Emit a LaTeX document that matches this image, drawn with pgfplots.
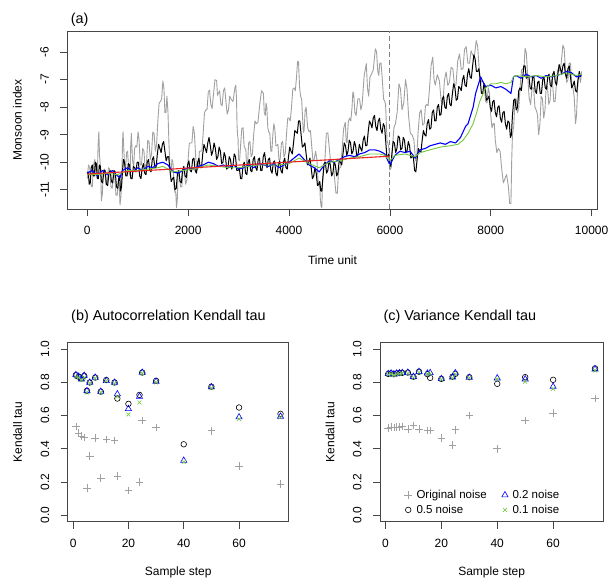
\documentclass[border=0pt]{standalone}
\usepackage{fontspec}
\setmainfont{Liberation Sans}
\usepackage{pgfplots}
\pgfplotsset{compat=1.18}
\definecolor{gry}{RGB}{160,160,160}
\definecolor{grn}{RGB}{115,200,60}
\definecolor{blu}{RGB}{0,0,255}
\definecolor{rd}{RGB}{235,35,35}
\definecolor{frm}{RGB}{70,70,70}
\pgfplotsset{
 rstyle/.style={
  scale only axis, anchor=south west, scaled ticks=false,
  axis line style={frm, line width=0.8pt},
  tick align=outside, tick pos=left, major tick length=7pt,
  tick style={frm, line width=0.7pt},
  every tick label/.append style={font=\fontsize{12}{14}\selectfont},
  /pgf/number format/assume math mode=true,
  /pgf/number format/1000 sep={},
  yticklabel style={rotate=90, anchor=south},
  yticklabel shift=8pt, xticklabel shift=7pt,
  every axis y label/.style={at={([xshift=-50pt]axis description cs:0,0.5)}, rotate=90, anchor=center, font=\fontsize{12}{14}\selectfont},
  every axis x label/.style={at={([yshift=-51pt]axis description cs:0.5,0)}, anchor=center, font=\fontsize{12}{14}\selectfont},
 },
 sc/.style={only marks, line width=0.6pt},
 mplus/.style={sc, gry, mark=+, mark size=3.8pt},
 mcirc/.style={sc, black, mark=o, mark size=2.8pt},
 mtri/.style={sc, blu, mark=triangle, mark size=3.6pt},
 mcross/.style={sc, grn, mark=x, mark size=2.7pt},
}
\begin{document}
\begin{tikzpicture}
\useasboundingbox (0pt,0pt) rectangle (611pt,579pt);
% ---------------- panel (a)
\begin{axis}[rstyle, at={(67.3pt,370pt)}, width=530.4pt, height=177.5pt,
  xmin=-395, xmax=10120, ymin=-11.70, ymax=-5.25,
  xtick={0,2000,4000,6000,8000,10000}, ytick={-11,-10,-9,-8,-7,-6},
  xlabel={Time unit}, ylabel={Monsoon index},
  title={(a)}, every axis title/.style={at={([yshift=7.5pt]axis description cs:0,1)}, anchor=base west, font=\fontsize{14.4}{16}\selectfont},
  every axis plot/.append style={line join=round}]
\addplot[gry, line width=0.9pt] coordinates {
(0,-10.6)(25,-10.1)(50,-10.2)(75,-10.85)(100,-10.9)(125,-10.1)(150,-9.9)(175,-10.5)(200,-10.5)(215,-9.4)
(230,-8.9)(245,-9.8)(260,-10.1)(270,-10.45)(280,-11.4)(300,-11.15)(320,-10.3)(345,-10.25)(370,-10.8)(395,-10.8)
(420,-10.2)(445,-10.25)(470,-10.9)(495,-10.95)(520,-10.4)(545,-10.5)(570,-11.2)(595,-11.2)(620,-10.6)(635,-10.8)
(650,-11.55)(670,-11.2)(690,-10.2)(700,-9.25)(710,-8.9)(735,-9.9)(760,-10.3)(780,-9.65)(800,-9.6)(825,-10.35)
(850,-10.5)(862,-9.4)(875,-8.95)(897,-9.9)(920,-10.2)(940,-9.5)(960,-9.4)(984,-9.45)(1008,-8.9)(1029,-9.2)
(1050,-10.1)(1075,-10.1)(1100,-9.5)(1125,-9.6)(1150,-10.3)(1175,-10.05)(1200,-9.2)(1225,-9.25)(1250,-9.9)(1275,-9.7)
(1300,-8.9)(1325,-8.95)(1350,-9.6)(1375,-9.35)(1400,-8.5)(1425,-7.85)(1450,-7.8)(1475,-7.7)(1500,-7.05)(1520,-7.3)
(1540,-8.2)(1560,-8.2)(1580,-7.6)(1600,-8.15)(1620,-9.3)(1640,-10.15)(1660,-10.4)(1680,-9.9)(1700,-10.0)(1720,-10.85)
(1740,-11.1)(1755,-11.07)(1770,-11.65)(1785,-11.37)(1800,-10.5)(1825,-10.4)(1850,-10.9)(1875,-10.9)(1900,-10.3)(1925,-10.25)
(1950,-10.8)(1975,-10.65)(2000,-9.9)(2025,-9.3)(2050,-9.3)(2075,-9.3)(2100,-8.7)(2125,-8.95)(2150,-9.8)(2175,-10.3)
(2200,-10.2)(2225,-9.6)(2250,-9.6)(2275,-9.55)(2300,-8.9)(2325,-8.2)(2350,-8.1)(2375,-8.08)(2400,-7.45)(2425,-7.38)
(2450,-7.9)(2475,-8.05)(2500,-7.6)(2532,-7.0)(2565,-7.03)(2582,-7.57)(2600,-7.5)(2625,-7.4)(2650,-7.9)(2675,-7.95)
(2700,-7.4)(2725,-7.3)(2750,-7.8)(2775,-8.25)(2800,-8.1)(2825,-7.6)(2850,-7.7)(2890,-7.8)(2930,-7.27)(2945,-7.2)
(2960,-7.7)(2970,-8.65)(2980,-9.0)(2990,-9.15)(3000,-9.9)(3020,-9.95)(3040,-9.4)(3065,-8.77)(3090,-8.75)(3110,-9.42)
(3130,-9.5)(3145,-9.55)(3160,-10.2)(3180,-10.05)(3200,-9.3)(3225,-9.25)(3250,-9.8)(3275,-9.7)(3300,-9.0)(3325,-8.5)
(3350,-8.6)(3385,-8.55)(3420,-7.9)(3455,-7.4)(3493,-7.5)(3510,-8.2)(3530,-8.3)(3545,-7.85)(3560,-8.0)(3580,-8.75)
(3600,-8.9)(3620,-8.95)(3640,-9.6)(3660,-9.6)(3680,-9.0)(3700,-8.6)(3720,-8.8)(3740,-9.4)(3760,-9.4)(3780,-9.35)
(3800,-9.9)(3825,-9.9)(3850,-9.3)(3875,-9.25)(3900,-9.8)(3925,-9.7)(3950,-9.0)(3975,-8.4)(4000,-8.4)(4025,-8.5)
(4050,-8.0)(4075,-7.35)(4100,-7.3)(4125,-7.4)(4150,-6.9)(4170,-6.33)(4189,-6.36)(4210,-7.28)(4230,-7.6)(4250,-7.7)
(4270,-8.4)(4285,-8.92)(4300,-8.84)(4320,-8.12)(4340,-8.0)(4370,-8.75)(4400,-8.9)(4425,-8.85)(4450,-9.4)(4475,-9.95)
(4500,-9.9)(4527,-9.6)(4553,-9.89)(4577,-10.7)(4600,-10.9)(4610,-10.8)(4620,-11.3)(4635,-11.6)(4650,-11.65)(4665,-10.73)
(4680,-10.4)(4710,-9.98)(4740,-8.96)(4770,-8.93)(4800,-9.5)(4825,-10.0)(4850,-9.9)(4875,-9.9)(4900,-10.5)(4930,-11.12)
(4958,-11.13)(4980,-10.37)(5000,-10.2)(5025,-10.2)(5050,-9.6)(5083,-8.78)(5116,-8.55)(5133,-9.22)(5150,-9.3)(5175,-8.55)
(5200,-8.4)(5225,-8.5)(5250,-8.0)(5266,-7.45)(5282,-7.5)(5306,-8.2)(5330,-8.3)(5365,-7.7)(5400,-7.7)(5425,-8.1)
(5450,-7.9)(5490,-6.86)(5533,-6.42)(5556,-7.31)(5580,-7.6)(5605,-6.91)(5630,-6.82)(5670,-6.65)(5712,-5.88)(5736,-5.99)
(5760,-6.7)(5780,-6.85)(5800,-6.4)(5825,-6.4)(5850,-7.0)(5875,-7.7)(5900,-7.8)(5915,-7.9)(5930,-8.6)(5945,-9.25)
(5960,-9.3)(5980,-9.5)(6000,-10.29)(6025,-10.2)(6050,-9.5)(6080,-8.75)(6110,-8.6)(6145,-8.18)(6180,-7.15)(6210,-7.33)
(6240,-8.1)(6275,-7.85)(6310,-7.0)(6340,-7.35)(6370,-8.3)(6405,-8.95)(6440,-9.0)(6475,-9.18)(6510,-9.95)(6535,-9.73)
(6560,-8.9)(6590,-8.2)(6620,-8.1)(6650,-8.65)(6680,-8.6)(6705,-7.95)(6730,-7.9)(6757,-7.95)(6783,-7.39)(6817,-6.49)
(6850,-6.18)(6875,-6.99)(6900,-7.2)(6940,-6.82)(6982,-7.04)(7016,-7.77)(7050,-7.9)(7082,-7.01)(7115,-6.72)(7148,-7.21)
(7180,-7.1)(7214,-6.55)(7248,-6.6)(7280,-7.2)(7310,-7.2)(7345,-6.33)(7380,-6.06)(7415,-6.63)(7450,-6.6)(7480,-5.9)
(7513,-5.8)(7546,-6.4)(7580,-6.4)(7610,-5.95)(7640,-6.1)(7676,-6.14)(7712,-5.58)(7740,-5.79)(7770,-6.6)(7800,-7.12)
(7830,-7.03)(7865,-7.12)(7900,-7.8)(7925,-7.85)(7950,-7.3)(7975,-7.5)(8000,-8.3)(8025,-8.75)(8050,-8.6)(8070,-8.6)
(8090,-9.2)(8120,-9.65)(8150,-9.5)(8185,-9.6)(8220,-10.3)(8250,-10.75)(8280,-10.6)(8315,-10.45)(8350,-10.9)(8375,-11.5)
(8400,-11.5)(8415,-9.95)(8430,-9.0)(8455,-8.7)(8480,-7.8)(8505,-7.7)(8530,-8.2)(8555,-8.05)(8580,-7.3)(8610,-6.65)
(8640,-6.6)(8660,-6.53)(8680,-5.86)(8705,-6.03)(8730,-6.8)(8760,-7.65)(8790,-7.9)(8820,-7.3)(8850,-7.3)(8875,-8.0)
(8900,-8.1)(8925,-8.25)(8950,-9.0)(8975,-8.6)(9000,-7.6)(9025,-7.7)(9050,-8.4)(9075,-8.1)(9100,-7.2)(9125,-7.25)
(9150,-7.9)(9175,-7.75)(9200,-7.0)(9225,-7.1)(9250,-7.8)(9275,-7.8)(9300,-7.2)(9325,-6.65)(9350,-6.7)(9390,-6.52)
(9430,-5.74)(9455,-5.87)(9480,-6.6)(9505,-7.1)(9530,-7.0)(9555,-6.4)(9580,-6.4)(9605,-7.15)(9630,-7.3)(9655,-7.65)
(9680,-8.6)(9700,-8.3)(9720,-7.4)(9740,-6.85)(9760,-6.9)(9780,-7.1)(9800,-6.7)};
\addplot[black, line width=1pt] coordinates {
(0,-10.4)(20,-10.35)(40,-10.8)(60,-10.75)(80,-10.2)(100,-10.1)(120,-10.5)(140,-10.5)(160,-10.0)(180,-10.05)
(200,-10.6)(220,-10.6)(240,-10.1)(260,-10.15)(280,-10.7)(305,-10.75)(330,-10.3)(355,-10.3)(380,-10.8)(405,-10.85)
(430,-10.4)(455,-10.3)(480,-10.7)(505,-10.75)(530,-10.3)(555,-10.35)(580,-10.9)(605,-10.95)(630,-10.5)(645,-10.5)
(660,-11.05)(680,-10.9)(700,-10.3)(720,-9.9)(740,-10.0)(765,-10.5)(790,-10.5)(815,-10.05)(840,-10.1)(865,-10.6)
(890,-10.6)(915,-10.15)(940,-10.2)(965,-10.35)(990,-10.0)(1015,-10.0)(1040,-10.5)(1065,-10.6)(1090,-10.2)(1115,-10.05)
(1140,-10.4)(1165,-10.45)(1190,-10.0)(1215,-9.9)(1240,-10.3)(1265,-10.35)(1290,-9.9)(1315,-9.8)(1340,-10.2)(1365,-10.2)
(1390,-9.7)(1415,-9.35)(1440,-9.5)(1465,-9.65)(1490,-9.35)(1515,-9.25)(1540,-9.6)(1565,-9.95)(1590,-9.8)(1615,-9.8)
(1640,-10.3)(1665,-10.7)(1690,-10.6)(1715,-10.55)(1740,-11.0)(1765,-10.95)(1790,-10.4)(1815,-10.3)(1840,-10.7)(1865,-10.75)
(1890,-10.3)(1915,-10.15)(1940,-10.5)(1965,-10.55)(1990,-10.1)(2015,-9.95)(2040,-10.3)(2065,-10.35)(2090,-9.9)(2115,-9.85)
(2140,-10.3)(2165,-10.4)(2190,-10.0)(2215,-9.85)(2240,-10.2)(2265,-10.2)(2290,-9.7)(2315,-9.35)(2340,-9.5)(2365,-9.65)
(2390,-9.3)(2415,-9.1)(2440,-9.4)(2465,-9.75)(2490,-9.6)(2515,-9.3)(2540,-9.5)(2565,-9.9)(2590,-9.8)(2615,-9.45)
(2640,-9.6)(2665,-10.05)(2690,-10.0)(2715,-9.65)(2740,-9.8)(2765,-10.25)(2790,-10.2)(2815,-9.8)(2840,-9.9)(2865,-10.25)
(2890,-10.1)(2915,-9.7)(2940,-9.8)(2965,-10.3)(2990,-10.3)(3015,-10.2)(3040,-10.6)(3065,-10.6)(3090,-10.1)(3115,-10.0)
(3140,-10.4)(3165,-10.45)(3190,-10.0)(3215,-9.9)(3240,-10.3)(3265,-10.35)(3290,-9.9)(3315,-9.8)(3340,-10.2)(3365,-10.3)
(3390,-9.9)(3415,-9.85)(3440,-10.3)(3465,-10.3)(3490,-9.8)(3515,-9.65)(3540,-10.0)(3565,-10.2)(3590,-9.9)(3615,-9.85)
(3640,-10.3)(3665,-10.4)(3690,-10.0)(3715,-9.95)(3740,-10.4)(3765,-10.5)(3790,-10.1)(3815,-9.95)(3840,-10.3)(3865,-10.4)
(3890,-10.0)(3915,-9.85)(3940,-10.2)(3965,-10.25)(3990,-9.8)(4015,-9.45)(4040,-9.6)(4065,-9.7)(4090,-9.3)(4115,-8.85)
(4140,-8.9)(4165,-8.95)(4190,-8.5)(4215,-8.5)(4240,-9.0)(4265,-9.45)(4290,-9.4)(4315,-9.3)(4340,-9.7)(4365,-10.1)
(4390,-10.0)(4415,-9.85)(4440,-10.2)(4465,-10.6)(4490,-10.5)(4515,-10.2)(4540,-10.4)(4565,-10.85)(4590,-10.8)(4610,-10.7)
(4630,-11.05)(4650,-11.05)(4670,-10.6)(4695,-10.05)(4720,-10.0)(4745,-10.4)(4770,-10.3)(4795,-9.95)(4820,-10.1)(4845,-10.5)
(4870,-10.4)(4895,-10.0)(4920,-10.1)(4945,-10.5)(4970,-10.4)(4995,-9.95)(5020,-10.0)(5045,-10.1)(5070,-9.7)(5095,-9.3)
(5120,-9.4)(5145,-9.75)(5170,-9.6)(5195,-9.2)(5220,-9.3)(5245,-9.7)(5270,-9.6)(5295,-9.25)(5320,-9.4)(5345,-9.8)
(5370,-9.7)(5395,-9.35)(5420,-9.5)(5445,-9.6)(5470,-9.2)(5495,-9.05)(5520,-9.4)(5545,-9.4)(5570,-8.9)(5595,-8.5)
(5620,-8.6)(5645,-8.75)(5670,-8.4)(5695,-8.3)(5720,-8.7)(5745,-8.85)(5770,-8.5)(5795,-8.4)(5820,-8.8)(5845,-8.95)
(5870,-8.6)(5895,-8.7)(5920,-9.3)(5940,-9.8)(5960,-9.8)(5980,-9.7)(6000,-10.1)(6020,-10.15)(6040,-9.7)(6065,-9.25)
(6090,-9.3)(6115,-9.65)(6140,-9.5)(6165,-9.05)(6190,-9.1)(6215,-9.55)(6240,-9.5)(6265,-9.1)(6290,-9.2)(6315,-9.65)
(6340,-9.6)(6365,-9.25)(6390,-9.4)(6415,-9.85)(6440,-9.8)(6465,-9.8)(6490,-10.3)(6515,-10.35)(6540,-9.9)(6565,-9.5)
(6590,-9.6)(6615,-9.65)(6640,-9.2)(6665,-8.85)(6690,-9.0)(6715,-9.05)(6740,-8.6)(6765,-8.45)(6790,-8.8)(6815,-8.75)
(6840,-8.2)(6865,-8.1)(6890,-8.5)(6915,-8.5)(6940,-8.0)(6965,-7.9)(6990,-8.3)(7015,-8.25)(7040,-7.7)(7065,-7.6)
(7090,-8.0)(7115,-8.05)(7140,-7.6)(7165,-7.5)(7190,-7.9)(7215,-7.95)(7240,-7.5)(7265,-7.15)(7290,-7.3)(7315,-7.75)
(7340,-7.7)(7365,-7.25)(7390,-7.3)(7415,-7.4)(7440,-7.0)(7465,-6.85)(7490,-7.2)(7515,-7.25)(7540,-6.8)(7565,-6.6)
(7590,-6.9)(7615,-6.95)(7640,-6.5)(7665,-6.1)(7690,-6.25)(7715,-6.7)(7740,-6.7)(7765,-6.6)(7790,-7.0)(7815,-7.5)
(7840,-7.5)(7865,-7.15)(7890,-7.3)(7915,-7.75)(7940,-7.7)(7965,-7.6)(7990,-8.0)(8015,-8.15)(8040,-7.8)(8065,-7.75)
(8090,-8.2)(8115,-8.35)(8140,-8.0)(8165,-7.95)(8190,-8.4)(8215,-8.55)(8240,-8.2)(8265,-8.15)(8290,-8.6)(8315,-8.8)
(8340,-8.5)(8365,-8.55)(8390,-9.1)(8410,-9.0)(8430,-8.3)(8455,-7.75)(8480,-7.7)(8505,-8.1)(8530,-8.0)(8555,-7.4)
(8580,-7.3)(8605,-7.4)(8630,-7.0)(8655,-6.5)(8680,-6.5)(8705,-6.95)(8730,-6.9)(8755,-6.85)(8780,-7.3)(8805,-7.35)
(8830,-6.9)(8855,-6.9)(8880,-7.4)(8905,-7.5)(8930,-7.1)(8955,-7.05)(8980,-7.5)(9005,-7.5)(9030,-7.0)(9055,-6.9)
(9080,-7.3)(9105,-7.35)(9130,-6.9)(9155,-6.8)(9180,-7.2)(9205,-7.25)(9230,-6.8)(9255,-6.7)(9280,-7.1)(9305,-7.2)
(9330,-6.8)(9355,-6.45)(9380,-6.6)(9405,-6.8)(9430,-6.5)(9455,-6.4)(9480,-6.8)(9505,-6.95)(9530,-6.6)(9555,-6.5)
(9580,-6.9)(9605,-7.3)(9630,-7.2)(9655,-7.05)(9680,-7.4)(9705,-7.45)(9730,-7.0)(9755,-6.7)(9780,-6.9)};
\addplot[blu, line width=1.1pt] coordinates {
(0,-10.4)(100,-10.3)(200,-10.5)(300,-10.3)(400,-10.45)(500,-10.3)(600,-10.5)(650,-10.55)(700,-10.3)(800,-10.2)
(900,-10.35)(1000,-10.2)(1100,-10.3)(1200,-10.15)(1300,-10.2)(1400,-10.05)(1500,-10.0)(1600,-10.1)(1700,-10.35)(1800,-10.4)
(1900,-10.3)(2000,-10.2)(2100,-10.25)(2200,-10.15)(2300,-10.1)(2400,-10.0)(2500,-10.05)(2600,-10.15)(2700,-10.1)(2800,-10.2)
(2900,-10.1)(3000,-10.25)(3100,-10.2)(3200,-10.1)(3300,-10.2)(3400,-10.05)(3500,-10.1)(3600,-10.15)(3700,-10.05)(3800,-10.2)
(3900,-10.1)(4000,-10.0)(4100,-9.85)(4200,-9.7)(4300,-9.9)(4400,-10.1)(4500,-10.2)(4600,-10.35)(4700,-10.1)(4800,-9.95)
(4900,-10.0)(5000,-9.9)(5100,-9.8)(5200,-9.75)(5300,-9.8)(5400,-9.7)(5500,-9.65)(5600,-9.55)(5700,-9.55)(5800,-9.6)
(5900,-9.7)(6000,-10.1)(6100,-9.75)(6200,-9.6)(6300,-9.65)(6400,-9.6)(6500,-9.85)(6600,-9.55)(6700,-9.5)(6800,-9.4)
(6900,-9.35)(7000,-9.3)(7100,-9.35)(7200,-9.25)(7300,-9.3)(7400,-9.1)(7450,-8.9)(7500,-8.7)(7550,-8.6)(7600,-8.3)
(7650,-8.0)(7700,-7.5)(7750,-7.2)(7800,-6.9)(7850,-7.1)(7900,-7.25)(8000,-7.2)(8100,-7.3)(8200,-7.25)(8300,-7.35)
(8400,-7.5)(8450,-6.9)(8500,-6.85)(8600,-6.95)(8700,-6.8)(8800,-6.9)(8900,-6.85)(9000,-6.95)(9100,-6.85)(9200,-6.9)
(9300,-6.85)(9400,-6.8)(9500,-6.7)(9600,-6.75)(9700,-6.9)(9800,-6.85)};
\addplot[grn, line width=0.9pt] coordinates {
(0,-10.45)(200,-10.45)(400,-10.4)(600,-10.45)(800,-10.3)(1000,-10.3)(1200,-10.25)(1400,-10.2)(1500,-10.15)(1700,-10.35)
(1900,-10.3)(2100,-10.25)(2300,-10.15)(2400,-10.1)(2600,-10.15)(2800,-10.2)(3000,-10.2)(3200,-10.15)(3400,-10.1)(3600,-10.1)
(3800,-10.1)(4000,-10.05)(4200,-9.85)(4400,-10.05)(4600,-10.2)(4800,-10.0)(5000,-9.95)(5200,-9.85)(5400,-9.8)(5600,-9.7)
(5800,-9.7)(5900,-9.75)(6000,-9.95)(6100,-9.75)(6300,-9.7)(6500,-9.8)(6600,-9.65)(6800,-9.55)(7000,-9.45)(7200,-9.4)
(7350,-9.35)(7450,-9.2)(7550,-8.95)(7650,-8.6)(7720,-8.2)(7780,-7.8)(7850,-7.5)(7900,-7.3)(8000,-7.15)(8100,-7.15)
(8200,-7.1)(8300,-7.15)(8400,-7.1)(8450,-6.9)(8500,-6.85)(8700,-6.9)(8900,-6.85)(9100,-6.9)(9300,-6.85)(9500,-6.75)
(9700,-6.85)(9800,-6.8)};
\addplot[rd, line width=1.1pt] coordinates {(0,-10.43)(6000,-9.78)};
\addplot[gray, line width=0.9pt, dash pattern=on 5pt off 3pt] coordinates {(6000,-11.7)(6000,-5.25)};
\end{axis}
% ---------------- panel (b)
\begin{axis}[rstyle, at={(67.7pt,57.3pt)}, width=221pt, height=179pt,
  xmin=-1.96, xmax=77.96, ymin=-0.04, ymax=1.04,
  xtick={0,20,40,60}, ytick={0,0.2,0.4,0.6,0.8,1.0},
  yticklabel style={/pgf/number format/fixed, /pgf/number format/fixed zerofill, /pgf/number format/precision=1},
  xlabel={Sample step}, ylabel={Kendall tau},
  title={(b) Autocorrelation Kendall tau}, every axis title/.style={at={([yshift=22.7pt]axis description cs:0,1)}, anchor=base west, font=\fontsize{14.4}{16}\selectfont}]
\addplot[mplus] coordinates {(1,0.535)(2,0.495)(3,0.478)(4,0.468)(5,0.164)(6,0.355)(8,0.465)(10,0.224)(12,0.455)(15,0.451)(16,0.234)(20,0.148)(24,0.198)(25,0.571)(30,0.529)(50,0.509)(60,0.295)(75,0.188)};
\addplot[mcirc] coordinates {(1,0.845)(2,0.835)(3,0.825)(4,0.84)(5,0.75)(6,0.80)(8,0.83)(10,0.745)(12,0.815)(15,0.80)(16,0.703)(20,0.671)(24,0.725)(25,0.86)(30,0.81)(40,0.427)(50,0.775)(60,0.649)(75,0.611)};
\addplot[mtri] coordinates {(1,0.846)(2,0.836)(3,0.82)(4,0.842)(5,0.749)(6,0.80)(8,0.83)(10,0.745)(12,0.81)(15,0.80)(16,0.73)(20,0.641)(24,0.715)(25,0.86)(30,0.806)(40,0.329)(50,0.772)(60,0.591)(75,0.595)};
\addplot[mcross] coordinates {(1,0.835)(2,0.83)(3,0.815)(4,0.83)(5,0.74)(6,0.795)(8,0.825)(10,0.74)(12,0.81)(15,0.795)(16,0.715)(20,0.607)(24,0.679)(25,0.855)(30,0.80)(40,0.32)(50,0.765)(60,0.58)(75,0.59)};
\end{axis}
% ---------------- panel (c)
\begin{axis}[rstyle, at={(380pt,57.3pt)}, width=223.3pt, height=179pt,
  xmin=-1.96, xmax=77.96, ymin=-0.04, ymax=1.04,
  xtick={0,20,40,60}, ytick={0,0.2,0.4,0.6,0.8,1.0},
  yticklabel style={/pgf/number format/fixed, /pgf/number format/fixed zerofill, /pgf/number format/precision=1},
  xlabel={Sample step}, ylabel={Kendall tau},
  title={(c) Variance Kendall tau}, every axis title/.style={at={([yshift=22.7pt]axis description cs:0,1)}, anchor=base west, font=\fontsize{14.4}{16}\selectfont},
  legend columns=2, legend cell align=left,
  legend style={draw=none, fill=none, font=\fontsize{11.5}{13}\selectfont, at={(0.095,0.015)}, anchor=south west,
    row sep=1pt, /tikz/every odd column/.append style={column sep=2.5pt}, /tikz/every even column/.append style={column sep=13pt}}]
\addlegendimage{mplus}\addlegendentry{Original noise}
\addlegendimage{mtri}\addlegendentry{0.2 noise}
\addlegendimage{mcirc}\addlegendentry{0.5 noise}
\addlegendimage{mcross}\addlegendentry{0.1 noise}
\addplot[mplus, forget plot] coordinates {(1,0.525)(2,0.53)(3,0.528)(4,0.53)(5,0.532)(6,0.535)(8,0.52)(10,0.54)(12,0.52)(15,0.51)(16,0.51)(20,0.465)(24,0.421)(25,0.515)(30,0.60)(40,0.40)(50,0.571)(60,0.615)(75,0.703)};
\addplot[mcirc, forget plot] coordinates {(1,0.852)(2,0.855)(3,0.85)(4,0.855)(5,0.857)(6,0.858)(8,0.86)(10,0.835)(12,0.865)(15,0.85)(16,0.828)(20,0.822)(24,0.835)(25,0.852)(30,0.832)(40,0.792)(50,0.832)(60,0.816)(75,0.885)};
\addplot[mtri, forget plot] coordinates {(1,0.852)(2,0.855)(3,0.85)(4,0.855)(5,0.857)(6,0.858)(8,0.86)(10,0.835)(12,0.865)(15,0.855)(16,0.858)(20,0.822)(24,0.832)(25,0.857)(30,0.83)(40,0.826)(50,0.82)(60,0.775)(75,0.88)};
\addplot[mcross, forget plot] coordinates {(1,0.848)(2,0.85)(3,0.845)(4,0.85)(5,0.852)(6,0.855)(8,0.855)(10,0.83)(12,0.86)(15,0.85)(16,0.852)(20,0.818)(24,0.826)(25,0.85)(30,0.828)(40,0.82)(50,0.805)(60,0.762)(75,0.873)};
\end{axis}
\end{tikzpicture}
\end{document}
